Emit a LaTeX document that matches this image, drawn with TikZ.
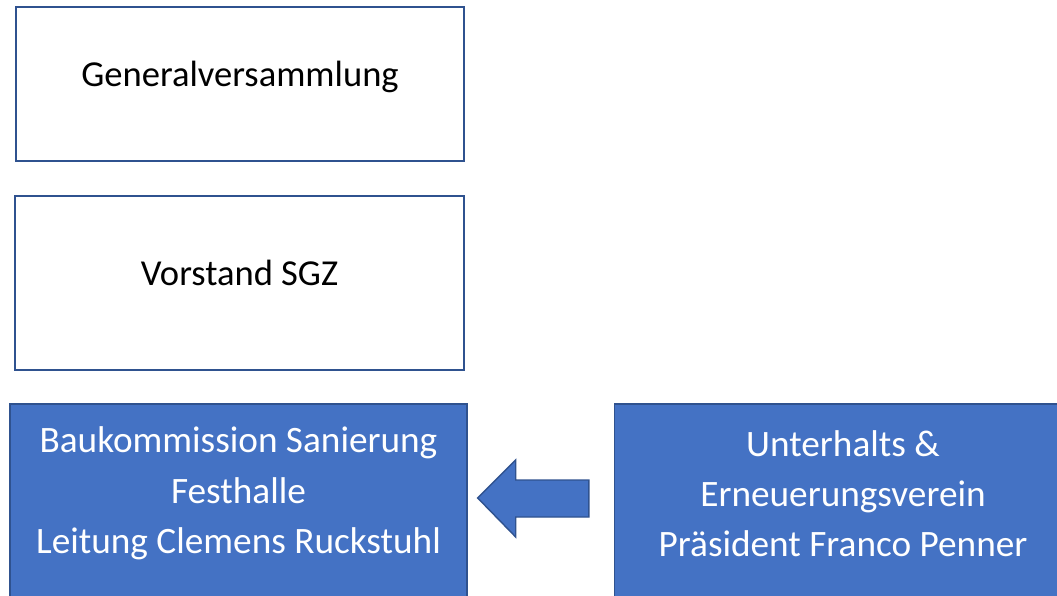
\documentclass[tikz,border=0pt]{standalone}
\usepackage{fontspec}
\setmainfont{Carlito}
\usetikzlibrary{calc}
\definecolor{officeblue}{HTML}{4472C4}
\definecolor{officeline}{HTML}{2F528F}

\begin{document}
\begin{tikzpicture}[x=0.025cm,y=-0.025cm,
  whitebox/.style={draw=officeline,line width=1pt,fill=white,inner sep=0pt,
    text height=18pt,text depth=14pt,font=\fontsize{26}{35.6}\selectfont},
  bluebox/.style={draw=officeline,line width=1pt,fill=officeblue,inner sep=0pt,
    minimum width=457*0.025cm,minimum height=200*0.025cm},
  bluetext/.style={text=white,align=center,inner sep=0pt,
    font=\fontsize{26.5}{35.6}\selectfont}]
\useasboundingbox (0,0) rectangle (1057,595);
\clip (0,0) rectangle (1057,595);

\node[whitebox,minimum width=448*0.025cm,minimum height=154*0.025cm] (gv) at (240,84) {Generalversammlung};
\node[whitebox,minimum width=449*0.025cm,minimum height=174*0.025cm] (vorstand) at (239.5,283) {Vorstand SGZ};

\node[bluebox] (baukom) at (238.5,504) {};
\node[bluebox] (verein) at (843,504) {};
\node[bluetext] (baukomtext) at ($(baukom.north)+(0,90)$) {Baukommission Sanierung\\Festhalle\\Leitung Clemens Ruckstuhl};
\node[bluetext] (vereintext) at ($(verein.north)+(0,90)$) {Unterhalts \&\\Erneuerungsverein\\Präsident Franco Penner};

% block arrow from verein to baukom
\draw[officeline,line width=1pt,fill=officeblue,line join=miter]
  ($(verein.west)+(-25,-24)$) -- ($(baukom.east)+(48,-24)$) -- ($(baukom.east)+(48,-44)$)
  -- ($(baukom.east)+(10,-6)$) -- ($(baukom.east)+(48,33)$) -- ($(baukom.east)+(48,13)$)
  -- ($(verein.west)+(-25,13)$) -- cycle;
\end{tikzpicture}
\end{document}
